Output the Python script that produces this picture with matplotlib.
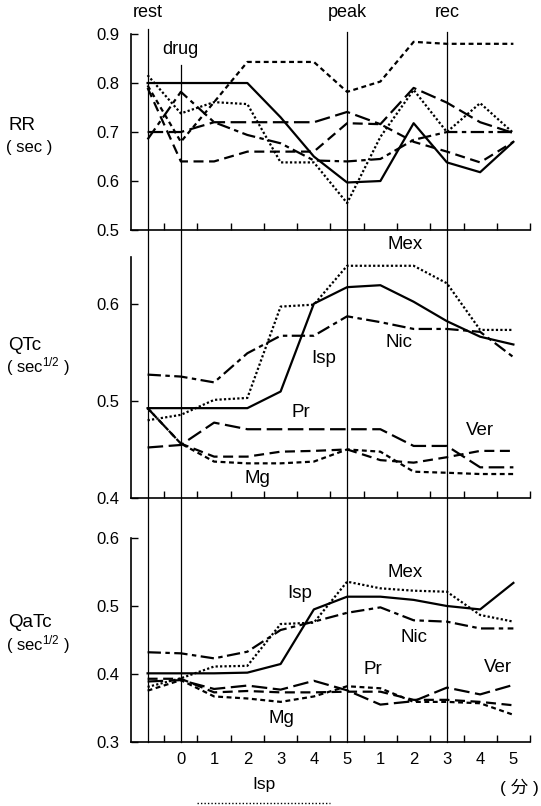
import numpy as np
import matplotlib.pyplot as plt
from matplotlib.lines import Line2D
from matplotlib.transforms import blended_transform_factory

plt.rcParams['font.family'] = ['Liberation Sans', 'Noto Sans CJK JP']
plt.rcParams['mathtext.fontset'] = 'custom'
plt.rcParams['mathtext.rm'] = 'Liberation Sans'
plt.rcParams['mathtext.it'] = 'Liberation Sans:italic'

# sampling points: rest, drug 0-5 min (5 = peak), then recovery 1-5 min
xticklabels = ['', '0', '1', '2', '3', '4', '5', '1', '2', '3', '4', '5']
x = np.arange(len(xticklabels))

events = ['rest', 'drug', 'peak', 'rec']
event_x = [0, 1, 6, 9]

drugs = ['Isp', 'Mex', 'Nic', 'Pr', 'Ver', 'Mg']

# RR interval (sec)
rr_isp = [0.800, 0.800, 0.800, 0.800, 0.730, 0.650, 0.597, 0.600, 0.718, 0.638, 0.618, 0.680]
rr_mex = [0.816, 0.738, 0.761, 0.757, 0.638, 0.638, 0.555, 0.690, 0.786, 0.700, 0.759, 0.698]
rr_nic = [0.685, 0.782, 0.720, 0.694, 0.677, 0.642, 0.640, 0.645, 0.684, 0.700, 0.700, 0.700]
rr_pr = [0.700, 0.700, 0.720, 0.720, 0.720, 0.720, 0.741, 0.716, 0.790, 0.760, 0.720, 0.698]
rr_ver = [0.790, 0.640, 0.640, 0.660, 0.660, 0.660, 0.718, 0.716, 0.680, 0.660, 0.638, 0.680]
rr_mg = [0.795, 0.680, 0.761, 0.843, 0.843, 0.843, 0.782, 0.803, 0.884, 0.880, 0.880, 0.880]

# QTc (sec^1/2)
qtc_isp = [0.4925, 0.4925, 0.4925, 0.4925, 0.5096, 0.600, 0.617, 0.619, 0.602, 0.582, 0.566, 0.558]
qtc_mex = [0.480, 0.4856, 0.501, 0.503, 0.597, 0.599, 0.639, 0.639, 0.639, 0.621, 0.573, 0.573]
qtc_nic = [0.527, 0.525, 0.519, 0.549, 0.567, 0.567, 0.587, 0.581, 0.574, 0.574, 0.571, 0.545]
qtc_pr = [0.452, 0.4546, 0.4776, 0.4708, 0.4708, 0.4708, 0.4708, 0.4708, 0.4536, 0.4536, 0.4316, 0.4316]
qtc_ver = [0.4925, 0.456, 0.4426, 0.4426, 0.4477, 0.4485, 0.450, 0.439, 0.4364, 0.442, 0.4485, 0.4485]
qtc_mg = [0.4925, 0.456, 0.4375, 0.4357, 0.4357, 0.4375, 0.450, 0.4477, 0.4271, 0.426, 0.4247, 0.4247]

# QaTc (sec^1/2)
qatc_isp = [0.401, 0.401, 0.401, 0.402, 0.4147, 0.495, 0.5137, 0.5137, 0.509, 0.500, 0.495, 0.534]
qatc_mex = [0.381, 0.3937, 0.411, 0.412, 0.4735, 0.4755, 0.5358, 0.526, 0.5225, 0.521, 0.4868, 0.477]
qatc_nic = [0.432, 0.4304, 0.423, 0.4328, 0.4647, 0.477, 0.490, 0.498, 0.479, 0.477, 0.467, 0.467]
qatc_pr = [0.389, 0.391, 0.378, 0.383, 0.377, 0.390, 0.376, 0.355, 0.360, 0.380, 0.370, 0.384]
qatc_ver = [0.393, 0.393, 0.373, 0.375, 0.373, 0.373, 0.374, 0.374, 0.362, 0.362, 0.359, 0.354]
qatc_mg = [0.3755, 0.391, 0.367, 0.364, 0.359, 0.367, 0.382, 0.379, 0.359, 0.359, 0.357, 0.340]

# line style per drug (dash lengths in units of line width)
styles = {
    'Isp': '-',
    'Mex': (0, (1, 1)),
    'Nic': (0, (6, 2, 2, 2)),
    'Pr': (0, (7, 2.5)),
    'Ver': (0, (4.5, 2.5)),
    'Mg': (0, (2.2, 1.6)),
}

fig = plt.figure(figsize=(5.41, 8.06), dpi=100)
ax1 = fig.add_axes([0.2421, 0.7146, 0.7376, 0.2432])
ax2 = fig.add_axes([0.2421, 0.3821, 0.7376, 0.2990])
ax3 = fig.add_axes([0.2421, 0.0794, 0.7376, 0.2531])

panels = [
    (ax1, [rr_isp, rr_mex, rr_nic, rr_pr, rr_ver, rr_mg], (0.5, 0.9), np.arange(0.5, 0.95, 0.1)),
    (ax2, [qtc_isp, qtc_mex, qtc_nic, qtc_pr, qtc_ver, qtc_mg], (0.4, 0.648), [0.4, 0.5, 0.6]),
    (ax3, [qatc_isp, qatc_mex, qatc_nic, qatc_pr, qatc_ver, qatc_mg], (0.3, 0.6), [0.3, 0.4, 0.5, 0.6]),
]

for ax, series, ylim, yticks in panels:
    for name, vals in zip(drugs, series):
        ax.plot(x, vals, color='black', lw=1.6, linestyle=styles[name])
    ax.set_xlim(-0.5, 11.5)
    ax.set_ylim(*ylim)
    ax.set_yticks(yticks)
    ax.set_yticklabels([f'{t:.1f}' for t in yticks])
    ax.set_xticks(x)
    ax.set_xticks(np.arange(0.5, 12, 1), minor=True)
    ax.tick_params(axis='x', which='major', length=0, pad=7, labelsize=12)
    ax.tick_params(axis='x', which='minor', direction='in', length=5, width=1)
    ax.tick_params(axis='y', direction='in', length=5, width=1, pad=8, labelsize=12)
    ax.spines['top'].set_visible(False)
    ax.spines['right'].set_visible(False)
    ax.spines['left'].set_linewidth(1.2)
    ax.spines['bottom'].set_linewidth(1.2)
    ax.patch.set_alpha(0)

ax1.set_xticklabels([''] * len(x))
ax2.set_xticklabels([''] * len(x))
ax3.set_xticklabels(xticklabels)

# event markers running through all three panels
trans = blended_transform_factory(ax3.transData, fig.transFigure)
bottom = ax3.get_position().y0
event_tops = [0.964, 0.919, 0.960, 0.960]
for ex, top in zip(event_x, event_tops):
    fig.add_artist(Line2D([ex, ex], [bottom, top], transform=trans, color='black', lw=0.9))
for name, ex in zip(events, event_x):
    ty = 0.938 if name == 'drug' else 0.984
    fig.text(ex, ty, name, transform=trans, ha='center', va='center', fontsize=13)

# panel names
fig.text(0.015, 1 - 130 / 806, 'RR', fontsize=13.5, va='baseline')
fig.text(0.011, 1 - 152 / 806, '( sec )', fontsize=12, va='baseline')
fig.text(0.015, 1 - 350 / 806, 'QTc', fontsize=13.5, va='baseline')
fig.text(0.011, 1 - 372 / 806, '( sec$^{1/2}$ )', fontsize=12, va='baseline')
fig.text(0.015, 1 - 627 / 806, 'QaTc', fontsize=13.5, va='baseline')
fig.text(0.011, 1 - 650 / 806, '( sec$^{1/2}$ )', fontsize=12, va='baseline')

# drug labels
for tx, ty, s in [(7.73, 0.661, 'Mex'), (5.29, 0.544, 'Isp'), (7.55, 0.560, 'Nic'),
                  (4.6, 0.4876, 'Pr'), (10.0, 0.470, 'Ver'), (3.31, 0.4206, 'Mg')]:
    ax2.text(tx, ty, s, ha='center', va='center', fontsize=13.5)
for tx, ty, s in [(7.73, 0.550, 'Mex'), (4.57, 0.519, 'Isp'), (8.0, 0.453, 'Nic'),
                  (6.77, 0.406, 'Pr'), (10.53, 0.410, 'Ver'), (4.03, 0.335, 'Mg')]:
    ax3.text(tx, ty, s, ha='center', va='center', fontsize=13.5)

# isoproterenol infusion period under the time axis
btrans = blended_transform_factory(ax3.transData, ax3.transAxes)
ax3.plot([1.5, 5.5], [-0.30, -0.30], transform=btrans, clip_on=False,
         color='black', lw=1, linestyle=(0, (1, 1.5)))
ax3.text(3.5, -0.21, 'Isp', transform=btrans, ha='center', va='center', fontsize=12.5)
fig.text(519 / 541, 1 - 787 / 806, '( 分 )', ha='center', va='center', fontsize=12.5)

fig.savefig('out.png', dpi=100)
